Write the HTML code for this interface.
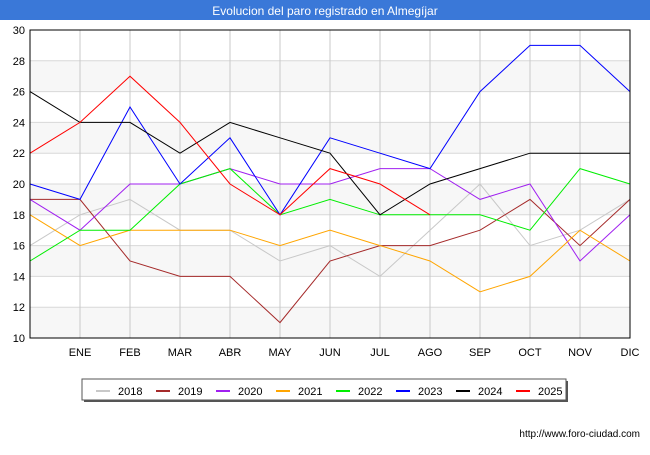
<!DOCTYPE html>
<html><head><meta charset="utf-8"><style>
body{margin:0;background:#fff;font-family:"Liberation Sans","DejaVu Sans",sans-serif;}
</style></head><body>
<svg width="650" height="450" xmlns="http://www.w3.org/2000/svg" font-family="Liberation Sans, DejaVu Sans, sans-serif">
<rect x="0" y="0" width="650" height="450" fill="#fff"/>
<rect x="0" y="0" width="650" height="20" fill="#3a78d8"/>
<text x="325" y="15" text-anchor="middle" fill="#fff" font-size="12">Evolucion del paro registrado en Almegíjar</text>
<g id="grid"></g>
<g id="series"></g>
<rect x="30" y="30" width="600" height="308" fill="none" stroke="#000" stroke-width="1"/>
<g id="axes"></g>
<g id="legend"></g>
<text x="640" y="437" text-anchor="end" font-size="10" fill="#000">http://www.foro-ciudad.com</text>
</svg>
<script>
const categories=["","ENE","FEB","MAR","ABR","MAY","JUN","JUL","AGO","SEP","OCT","NOV","DIC"];
const yTicks=[10,12,14,16,18,20,22,24,26,28,30];
const seriesNames=["2018","2019","2020","2021","2022","2023","2024","2025"];
const seriesColors=["#c8c8c8","#a52a2a","#a020f0","#ffa500","#00ee00","#0000ff","#000000","#ff0000"];
const s2018=[16,18,19,17,17,15,16,14,17,20,16,17,19];
const s2019=[19,19,15,14,14,11,15,16,16,17,19,16,19];
const s2020=[19,17,20,20,21,20,20,21,21,19,20,15,18];
const s2021=[18,16,17,17,17,16,17,16,15,13,14,17,15];
const s2022=[15,17,17,20,21,18,19,18,18,18,17,21,20];
const s2023=[20,19,25,20,23,18,23,22,21,26,29,29,26];
const s2024=[26,24,24,22,24,23,22,18,20,21,22,22,22];
const s2025=[22,24,27,24,20,18,21,20,18];
const allSeries=[s2018,s2019,s2020,s2021,s2022,s2023,s2024,s2025];
const NS="http://www.w3.org/2000/svg";
const X0=30,X1=630,Y0=338,Y1=30;
function xS(i){return X0+i*(X1-X0)/(categories.length-1);}
function yS(v){return Y0-(v-10)*(Y0-Y1)/20;}
function mk(tag,attrs,parent){const e=document.createElementNS(NS,tag);for(const k in attrs)e.setAttribute(k,attrs[k]);parent.appendChild(e);return e;}
const grid=document.getElementById('grid'),axes=document.getElementById('axes'),ser=document.getElementById('series'),leg=document.getElementById('legend');
for(let i=0;i<yTicks.length-1;i++){
 if(i%2==0){const b=mk('rect',{x:X0,y:yS(yTicks[i+1]),width:X1-X0,height:yS(yTicks[i])-yS(yTicks[i+1]),fill:'#f7f7f7'},grid);
 
 }
}
yTicks.forEach(t=>{
 const l=mk('line',{x1:X0,x2:X1,y1:yS(t),y2:yS(t),stroke:'#d8d8d8','stroke-width':1},grid);
 
 
 const tx=mk('text',{x:X0-5,y:yS(t)+4,'text-anchor':'end','font-size':11,fill:'#000'},axes);
 tx.textContent=t;
 
 
});
categories.forEach((c,i)=>{
 const l=mk('line',{x1:xS(i),x2:xS(i),y1:Y1,y2:Y0,stroke:'#c8c8c8','stroke-width':1},grid);
 
 
 if(c){const tx=mk('text',{x:xS(i),y:356,'text-anchor':'middle','font-size':11,fill:'#000'},axes);
 tx.textContent=c;
 
 }
});
allSeries.forEach((s,k)=>{
 const p=mk('polyline',{points:s.map((v,i)=>xS(i)+','+yS(v)).join(' '),fill:'none',stroke:seriesColors[k],'stroke-width':1},ser);
 
 
});
const lb=mk('rect',{x:84,y:381,width:484,height:21,fill:'#555'},leg);


const lr=mk('rect',{x:82,y:379,width:484,height:21,fill:'#fff',stroke:'#555'},leg);


seriesNames.forEach((n,k)=>{
 const x=96+k*60;
 const ln=mk('line',{x1:x,x2:x+14,y1:391,y2:391,stroke:seriesColors[k],'stroke-width':2},leg);
 
 
 const t=mk('text',{x:x+22,y:395,'font-size':11,fill:'#000'},leg);
 t.textContent=n;
 
 
});
</script>
</body></html>
